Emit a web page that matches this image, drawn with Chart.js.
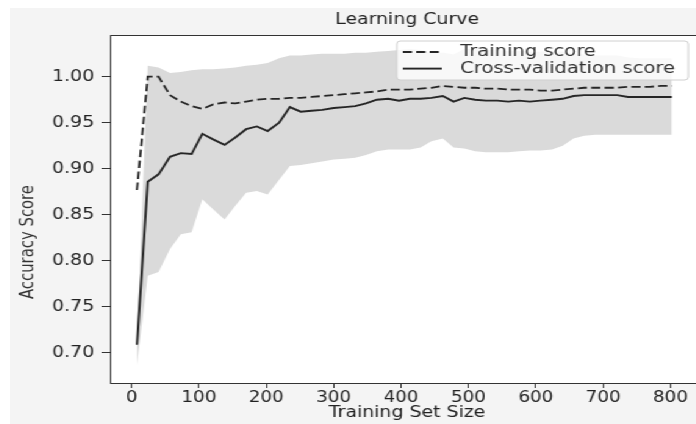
<!DOCTYPE html>
<html>
<head>
<meta charset="utf-8">
<script src="https://cdn.jsdelivr.net/npm/chart.js@4.4.0/dist/chart.umd.min.js"></script>
<style>
  html, body { margin: 0; padding: 0; background: #fff; overflow: hidden; }
  body { width: 696px; height: 424px; position: relative; }
  /* the reference is stretched sideways, so the canvas is too */
  #wrap { position: absolute; left: 10px; top: 8px; width: 575px; height: 416px;
          transform: scaleX(1.22); transform-origin: 0 0; background: #f4f4f4; }
  canvas { display: block; }
</style>
</head>
<body>
<div id="wrap"><canvas id="curve" width="575" height="416"></canvas></div>
<script>
const trainSizes = [8, 24, 40, 57, 73, 89, 105, 121, 138, 154, 170, 186, 202, 219, 235, 251, 267, 283, 300, 316,
  332, 348, 364, 381, 397, 413, 429, 445, 462, 478, 494, 510, 526, 543, 559, 575, 591, 607, 624, 640,
  656, 672, 688, 705, 721, 737, 753, 769, 786, 802];

const trainScores = [0.877, 1.000, 1.000, 0.980, 0.973, 0.968, 0.965, 0.970, 0.972, 0.971,
  0.973, 0.975, 0.976, 0.976, 0.977, 0.977, 0.978, 0.979, 0.980, 0.981,
  0.982, 0.983, 0.984, 0.986, 0.986, 0.986, 0.987, 0.988, 0.990, 0.989,
  0.988, 0.988, 0.987, 0.987, 0.986, 0.986, 0.986, 0.985, 0.985, 0.986,
  0.987, 0.988, 0.988, 0.988, 0.988, 0.989, 0.989, 0.989, 0.990, 0.990];

const cvScores = [0.709, 0.886, 0.894, 0.913, 0.917, 0.916, 0.938, 0.932, 0.926, 0.934,
  0.943, 0.946, 0.941, 0.950, 0.967, 0.962, 0.963, 0.964, 0.966, 0.967,
  0.968, 0.971, 0.975, 0.976, 0.974, 0.976, 0.976, 0.977, 0.979, 0.973,
  0.977, 0.975, 0.974, 0.974, 0.973, 0.974, 0.973, 0.974, 0.975, 0.976,
  0.979, 0.980, 0.980, 0.980, 0.980, 0.978, 0.978, 0.978, 0.978, 0.978];

// grey band around the cross-validation score
const bandUpper = [0.715, 1.012, 1.010, 1.004, 1.005, 1.007, 1.008, 1.008, 1.009, 1.010,
  1.012, 1.013, 1.015, 1.020, 1.023, 1.023, 1.024, 1.025, 1.025, 1.025,
  1.026, 1.026, 1.027, 1.028, 1.029, 1.030, 1.029, 1.026, 1.026, 1.024,
  1.030, 1.030, 1.029, 1.029, 1.028, 1.028, 1.027, 1.027, 1.028, 1.027,
  1.025, 1.024, 1.023, 1.023, 1.023, 1.021, 1.020, 1.020, 1.020, 1.020];

const bandLower = [0.687, 0.784, 0.788, 0.813, 0.829, 0.831, 0.867, 0.856, 0.845, 0.860,
  0.874, 0.876, 0.872, 0.888, 0.903, 0.904, 0.906, 0.908, 0.910, 0.911,
  0.912, 0.915, 0.919, 0.921, 0.921, 0.921, 0.923, 0.930, 0.933, 0.923,
  0.922, 0.919, 0.918, 0.918, 0.918, 0.919, 0.920, 0.920, 0.921, 0.925,
  0.933, 0.936, 0.937, 0.937, 0.937, 0.937, 0.937, 0.937, 0.937, 0.937];

const xTicks = [0, 100, 200, 300, 400, 500, 600, 700, 800];
const yTicks = [0.70, 0.75, 0.80, 0.85, 0.90, 0.95, 1.00];

const FONT = '"DejaVu Sans", sans-serif';
const INK = '#262626';

const pts = ys => trainSizes.map((x, i) => ({x, y: ys[i]}));

// white plot face + black frame
const frame = {
  id: 'frame',
  beforeDraw(chart) {
    const {ctx, chartArea: a} = chart;
    ctx.save();
    ctx.fillStyle = '#fff';
    ctx.fillRect(a.left, a.top, a.right - a.left, a.bottom - a.top);
    ctx.restore();
  },
  afterDraw(chart) {
    const {ctx, chartArea: a} = chart;
    ctx.save();
    ctx.strokeStyle = '#333';
    ctx.lineWidth = 1;
    ctx.strokeRect(a.left + 0.5, a.top + 0.5, a.right - a.left, a.bottom - a.top);
    ctx.restore();
  }
};

// legend box in the upper right of the plot
const innerLegend = {
  id: 'innerLegend',
  afterDatasetsDraw(chart) {
    const {ctx, chartArea: a} = chart;
    const left = a.right - 252, top = a.top + 6, w = 239, h = 39;
    ctx.save();
    ctx.beginPath();
    ctx.roundRect(left, top, w, h, 3);
    ctx.fillStyle = 'rgba(255,255,255,0.8)';
    ctx.fill();
    ctx.strokeStyle = '#d0d0d0';
    ctx.lineWidth = 1;
    ctx.stroke();
    const items = chart.data.datasets.filter(d => d.inLegend);
    items.forEach((d, i) => {
      const y = top + 11 + i * 16.6;
      ctx.beginPath();
      ctx.setLineDash(d.borderDash || []);
      ctx.strokeStyle = d.borderColor;
      ctx.lineWidth = d.borderWidth;
      ctx.moveTo(left + 5, y);
      ctx.lineTo(left + 37, y);
      ctx.stroke();
      ctx.setLineDash([]);
      ctx.fillStyle = '#333';
      ctx.font = '16px ' + FONT;
      ctx.textBaseline = 'middle';
      ctx.fillText(d.label, left + 52, y);
    });
    ctx.restore();
  }
};

// y label sits lower than the axis middle in the reference
const yLabel = {
  id: 'yLabel',
  afterDraw(chart) {
    const {ctx} = chart;
    ctx.save();
    ctx.translate(14.75, 234);
    ctx.rotate(-Math.PI / 2);
    ctx.textAlign = 'center';
    ctx.textBaseline = 'middle';
    ctx.fillStyle = '#333';
    ctx.font = '16.5px "DejaVu Sans Condensed", ' + FONT;
    ctx.fillText('Accuracy Score', 0, 0);
    ctx.restore();
  }
};

new Chart(document.getElementById('curve'), {
  type: 'line',
  data: {
    datasets: [
      { label: 'band upper', data: pts(bandUpper), borderColor: 'rgba(0,0,0,0)', borderWidth: 0,
        pointRadius: 0, fill: false, order: 3 },
      { label: 'band lower', data: pts(bandLower), borderColor: 'rgba(0,0,0,0)', borderWidth: 0,
        pointRadius: 0, fill: '-1', backgroundColor: '#dadada', order: 3 },
      { label: 'Training score', data: pts(trainScores), borderColor: INK, borderWidth: 1.8,
        borderDash: [7.5, 3.5], pointRadius: 0, fill: false, order: 1, inLegend: true },
      { label: 'Cross-validation score', data: pts(cvScores), borderColor: INK, borderWidth: 1.9,
        pointRadius: 0, fill: false, order: 1, inLegend: true }
    ]
  },
  options: {
    responsive: false,
    animation: false,
    layout: { padding: { left: 0, right: 6, top: 0, bottom: 0 } },
    plugins: {
      legend: { display: false },
      tooltip: { enabled: false },
      title: {
        display: true, text: 'Learning Curve', fullSize: false, color: '#222',
        font: { family: FONT, size: 15.5, weight: 'normal', lineHeight: '18px' },
        padding: { top: 3, bottom: 6 }
      }
    },
    scales: {
      x: {
        type: 'linear', min: -32, max: 850,
        afterBuildTicks: s => { s.ticks = xTicks.map(v => ({value: v})); },
        afterFit: s => { s.height = 41; },
        grid: { drawOnChartArea: false, drawTicks: true, tickLength: 5, color: '#333' },
        border: { display: false },
        ticks: { color: '#222', font: { family: FONT, size: 15 }, padding: 1, maxRotation: 0,
                 callback: v => String(v) },
        title: { display: true, text: 'Training Set Size', color: '#222',
                 font: { family: FONT, size: 15.5, lineHeight: '17px' }, padding: { top: 0, bottom: 3 } }
      },
      y: {
        min: 0.6674, max: 1.0453,
        afterBuildTicks: s => { s.ticks = yTicks.map(v => ({value: v})); },
        afterFit: s => { s.width = 82; },
        grid: { drawOnChartArea: false, drawTicks: true, tickLength: 7, color: '#333' },
        border: { display: false },
        ticks: { color: '#222', font: { family: FONT, size: 15.5 }, padding: 6,
                 callback: v => v.toFixed(2) }
      }
    }
  },
  plugins: [frame, innerLegend, yLabel]
});
</script>
</body>
</html>
